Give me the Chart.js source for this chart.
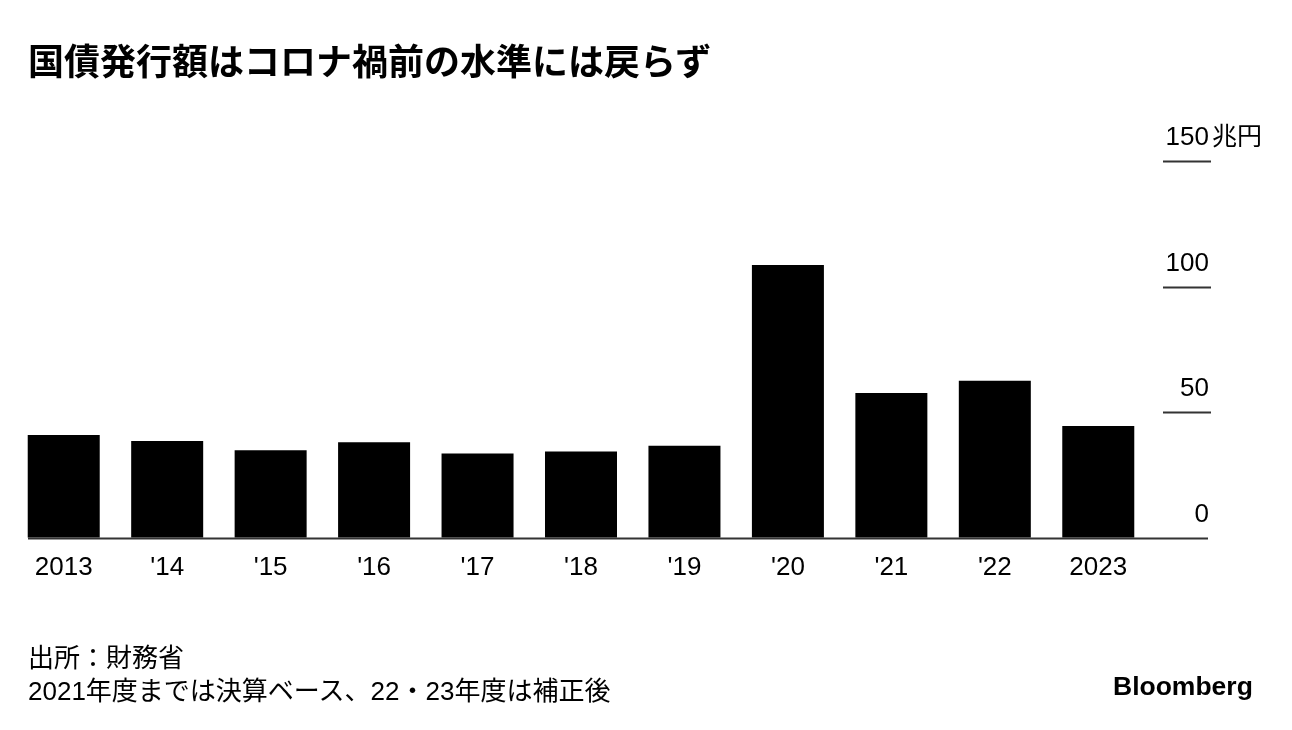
<!DOCTYPE html>
<html>
<head>
<meta charset="utf-8">
<script src="https://cdn.jsdelivr.net/npm/chart.js@4"></script>
<style>
  body { margin: 0; background: #fff; }
  #wrap { position: relative; width: 1292px; height: 730px; overflow: hidden; }
  #wrap canvas { position: absolute; left: 0; top: 0; }
  .txt { position: absolute; color: #000; white-space: nowrap; }
  #title { left: 28px; top: 35px; font: bold 36px "Noto Sans CJK JP", sans-serif; line-height: 48px; }
  #note { left: 28px; top: 642px; font: 26px "Liberation Sans", "Noto Sans CJK JP", sans-serif; line-height: 33px; }
  #logo { left: 1113px; top: 670px; font: bold 26.5px "Liberation Sans", Arial, sans-serif; line-height: 32px; }
</style>
</head>
<body>
<div id="wrap">
  <canvas id="grafico"></canvas>
  <div class="txt" id="title">国債発行額はコロナ禍前の水準には戻らず</div>
  <div class="txt" id="note">出所：財務省<br>2021年度までは決算ベース、22・23年度は補正後</div>
  <div class="txt" id="logo">Bloomberg</div>
</div>
<script>
const anos = ['2013', "'14", "'15", "'16", "'17", "'18", "'19", "'20", "'21", "'22", '2023'];
const emissao = [40.9, 38.5, 34.9, 38.0, 33.6, 34.4, 36.6, 108.6, 57.6, 62.5, 44.5];
const ticksY = [0, 50, 100, 150];
const unidade = '兆円';

const fonteLatina = '"Liberation Sans", Arial, "Noto Sans CJK JP", sans-serif';

// eixo y desenhado à mão: linhas curtas à direita, rótulo acima da linha
const eixoDireita = {
    id: 'eixoDireita',
    afterDatasetsDraw(chart) {
        const ctx = chart.ctx;
        const y = chart.scales.y;
        ctx.save();
        ctx.strokeStyle = '#333';
        ctx.lineWidth = 2;
        ctx.fillStyle = '#000';
        ctx.font = '26px ' + fonteLatina;
        ctx.textBaseline = 'alphabetic';
        ticksY.forEach((v, i) => {
            const py = Math.round(y.getPixelForValue(v)) + 0.5;
            ctx.beginPath();
            if (v === 0) {
                ctx.moveTo(28, py);
                ctx.lineTo(1208, py);
            } else {
                ctx.moveTo(1163, py);
                ctx.lineTo(1211, py);
            }
            ctx.stroke();
            ctx.textAlign = 'right';
            ctx.fillText(String(v), 1209, py - 17);
            if (i === ticksY.length - 1) {
                ctx.textAlign = 'left';
                ctx.font = '25px "Noto Sans CJK JP", sans-serif';
                ctx.fillText(unidade, 1212, py - 17);
            }
        });
        ctx.restore();
    }
};

const canvas = document.getElementById('grafico');
canvas.width = 1292;
canvas.height = 730;

new Chart(canvas.getContext('2d'), {
    type: 'bar',
    data: {
        labels: anos,
        datasets: [{
            data: emissao,
            backgroundColor: '#000',
            borderWidth: 0,
            categoryPercentage: 1,
            barPercentage: 0.696
        }]
    },
    options: {
        responsive: false,
        animation: false,
        devicePixelRatio: 1,
        layout: { padding: { left: 12, right: 142, top: 161, bottom: 141 } },
        plugins: { legend: { display: false }, tooltip: { enabled: false } },
        scales: {
            x: {
                grid: { display: false },
                border: { display: false },
                ticks: {
                    color: '#000',
                    padding: 6,
                    maxRotation: 0,
                    autoSkip: false,
                    font: { family: fonteLatina, size: 26 }
                }
            },
            y: {
                display: false,
                min: 0,
                max: 150
            }
        }
    },
    plugins: [eixoDireita]
});
</script>
</body>
</html>
